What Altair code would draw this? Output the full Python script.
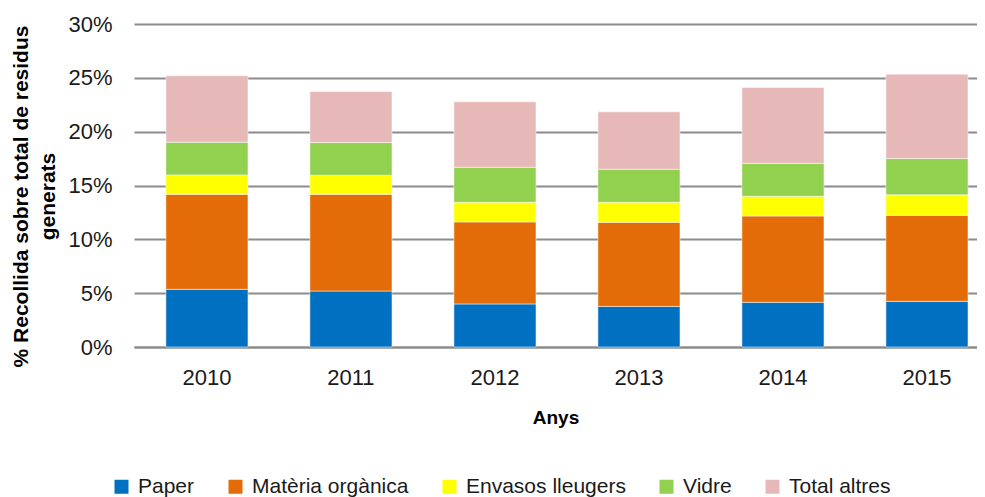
import altair as alt
import pandas as pd

years = ["2010", "2011", "2012", "2013", "2014", "2015"]
categories = ["Paper", "Matèria orgànica", "Envasos lleugers", "Vidre", "Total altres"]
colors = ["#0070C0", "#E36C09", "#FFFF00", "#92D050", "#E6B9B8"]

paper = [5.36, 5.20, 4.00, 3.77, 4.15, 4.24]
organica = [8.82, 8.98, 7.62, 7.81, 8.02, 7.99]
envasos = [1.80, 1.77, 1.82, 1.86, 1.83, 1.90]
vidre = [3.04, 3.04, 3.25, 3.07, 3.06, 3.37]
altres = [6.17, 4.74, 6.08, 5.33, 7.04, 7.84]

series = [paper, organica, envasos, vidre, altres]
rows = []
for ci, (cat, vals) in enumerate(zip(categories, series)):
    for y, v in zip(years, vals):
        rows.append({"Any": y, "Categoria": cat, "Valor": v / 100.0, "ordre": ci})
df = pd.DataFrame(rows)

label_font = "Liberation Sans"
grid_color = "#8c8c8c"

chart = alt.Chart(df).mark_bar(stroke="white", strokeWidth=0.5).encode(
    x=alt.X(
        "Any:N",
        sort=years,
        title="Anys",
        scale=alt.Scale(paddingInner=0.43, paddingOuter=0.142, align=0.78),
        axis=alt.Axis(
            labelAngle=0,
            labelFont=label_font,
            labelFontSize=22,
            labelColor="#1a1a1a",
            labelPadding=20,
            ticks=False,
            tickSize=0,
            domainColor=grid_color,
            domainWidth=2,
            titleFont=label_font,
            titleFontSize=19,
            titleFontWeight="bold",
            titleColor="#000000",
            titlePadding=20,
        ),
    ),
    y=alt.Y(
        "Valor:Q",
        stack="zero",
        title=["% Recollida sobre total de residus", "generats"],
        scale=alt.Scale(domain=[0, 0.30], nice=False),
        axis=alt.Axis(
            format=".0%",
            values=[0, 0.05, 0.10, 0.15, 0.20, 0.25, 0.30],
            labelFont=label_font,
            labelFontSize=22,
            labelColor="#1a1a1a",
            labelPadding=22,
            ticks=False,
            tickSize=0,
            domain=False,
            grid=True,
            gridColor=grid_color,
            gridWidth=2,
            titleFont=label_font,
            titleFontSize=21,
            titleFontWeight="bold",
            titleColor="#000000",
            titlePadding=9,
            titleLineHeight=27,
            titleY=172,
        ),
    ),
    color=alt.Color(
        "Categoria:N",
        sort=categories,
        scale=alt.Scale(domain=categories, range=colors),
        legend=alt.Legend(
            title=None,
            orient="none",
            direction="horizontal",
            legendX=-23,
            legendY=452,
            symbolType="square",
            symbolSize=196,
            symbolStrokeWidth=0,
            labelFont=label_font,
            labelFontSize=21,
            labelColor="#1a1a1a",
            labelOffset=6,
            columnPadding=30,
            padding=0,
        ),
    ),
    order=alt.Order("ordre:Q", sort="ascending"),
).properties(
    width=843,
    height=323,
    padding={"left": 2, "top": 5, "right": 0, "bottom": 0},
).configure_view(stroke=None)

chart.save("out.html", embed_options={"renderer": "svg", "actions": False})
